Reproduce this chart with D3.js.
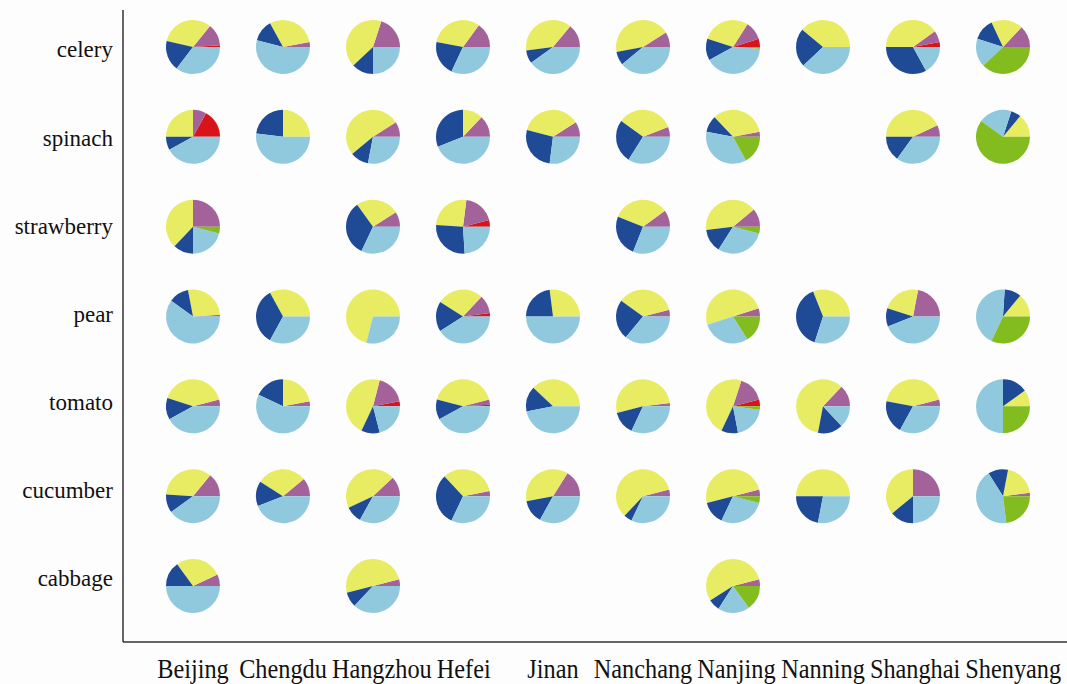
<!DOCTYPE html>
<meta charset="utf-8">
<style>
    html, body {
        margin: 0;
        padding: 0;
        background: #fdfdfd;
    }
    svg {
        display: block;
        font-family: "Liberation Serif", "Times New Roman", serif;
    }
</style>
<svg id="chart" width="1067" height="684"></svg>
<script src="https://d3js.org/d3.v7.min.js"></script>
<script>
    // rows and columns of the grid
    const crops = ["celery", "spinach", "strawberry", "pear", "tomato", "cucumber", "cabbage"];
    const cities = ["Beijing", "Chengdu", "Hangzhou", "Hefei", "Jinan", "Nanchang", "Nanjing", "Nanning", "Shanghai", "Shenyang"];

    // slice order inside each pie (counter-clockwise from 3 o'clock)
    const parts = ["red", "purple", "yellow", "darkblue", "lightblue", "green"];
    const partColors = ["#d8141a", "#a3629a", "#e8ec62", "#1f4a96", "#90c9de", "#82bc1e"];

    // shares in % per city (same order as cities), null = no pie
    const celery = [
        [1, 13, 32, 18, 35, 0], [0, 3, 30, 13, 54, 0], [0, 20, 42, 13, 25, 0], [0, 15, 32, 21, 32, 0],
        [0, 14, 38, 8, 40, 0], [0, 9, 44, 8, 39, 0], [5, 11, 29, 13, 41, 1], [0, 0, 39, 23, 38, 0],
        [3, 7, 40, 33, 17, 0], [0, 13, 19, 13, 17, 38]
    ];
    const spinach = [
        [17, 8, 25, 8, 42, 0], [0, 0, 25, 23, 52, 0], [0, 9, 52, 11, 28, 0], [0, 13, 12, 31, 44, 0],
        [0, 9, 37, 27, 27, 0], [0, 6, 34, 26, 34, 0], [0, 3, 34, 10, 36, 17], null,
        [0, 7, 43, 15, 35, 0], [0, 0, 14, 6, 20, 60]
    ];
    const strawberry = [
        [0, 25, 38, 12, 21, 4], null, [0, 9, 26, 33, 32, 0], [4, 19, 26, 27, 24, 0],
        null, [0, 10, 34, 25, 31, 0], [0, 11, 41, 14, 30, 4], null,
        null, null
    ];
    const pear = [
        [0, 1, 27, 12, 60, 0], [0, 0, 33, 34, 33, 0], [0, 0, 71, 0, 29, 0], [2, 11, 28, 18, 41, 0],
        [0, 0, 27, 23, 50, 0], [0, 4, 36, 24, 36, 0], [0, 5, 50, 0, 29, 16], [0, 0, 31, 39, 30, 0],
        [0, 22, 23, 11, 44, 0], [0, 0, 14, 10, 44, 32]
    ];
    const tomato = [
        [0, 4, 41, 13, 42, 0], [0, 3, 22, 18, 57, 0], [3, 18, 47, 11, 21, 0], [1, 3, 42, 12, 42, 0],
        [0, 0, 38, 15, 47, 0], [0, 2, 52, 14, 32, 0], [4, 16, 48, 10, 20, 2], [0, 13, 59, 15, 13, 0],
        [0, 4, 43, 20, 33, 0], [0, 0, 10, 15, 50, 25]
    ];
    const cucumber = [
        [0, 14, 35, 11, 40, 0], [0, 11, 30, 15, 44, 0], [0, 12, 45, 10, 33, 0], [0, 3, 34, 31, 32, 0],
        [0, 16, 37, 14, 33, 0], [0, 4, 59, 5, 32, 0], [0, 4, 50, 14, 28, 4], [0, 0, 50, 22, 28, 0],
        [0, 25, 36, 14, 25, 0], [0, 2, 20, 12, 43, 23]
    ];
    const cabbage = [
        [0, 7, 28, 15, 50, 0], null, [0, 4, 50, 9, 37, 0], null,
        null, null, [0, 4, 55, 7, 19, 15], null,
        null, null
    ];
    const shares = {celery, spinach, strawberry, pear, tomato, cucumber, cabbage};

    const svg = d3.select("#chart");
    const radius = 27;

    const x = d3.scalePoint().domain(cities).range([193, 1003]);
    const y = d3.scalePoint().domain(crops).range([47, 586]);
    // row labels sit on a slightly tighter spacing than the pies
    const yLabel = d3.scalePoint().domain(crops).range([50, 579]);

    const color = d3.scaleOrdinal().domain(parts).range(partColors);

    // matplotlib style: start at 3 o'clock, go counter-clockwise
    const pie = d3.pie()
        .sort(null)
        .value(d => d.value)
        .startAngle(Math.PI / 2)
        .endAngle(Math.PI / 2 - 2 * Math.PI);
    const arc = d3.arc().innerRadius(0).outerRadius(radius);

    let cells = [];
    crops.forEach(crop => {
        shares[crop].forEach((vals, i) => {
            if (vals) cells.push({crop: crop, city: cities[i], vals: vals});
        });
    });

    const g = svg.selectAll("g.cell")
        .data(cells)
        .join("g")
        .attr("class", "cell")
        .attr("transform", d => `translate(${x(d.city)},${y(d.crop)})`);

    g.selectAll("path")
        .data(d => pie(d.vals.map((v, k) => ({part: parts[k], value: v}))).filter(s => s.value > 0))
        .join("path")
        .attr("d", arc)
        .attr("fill", s => color(s.data.part));

    // axes frame
    svg.append("line")
        .attr("x1", 123).attr("x2", 123)
        .attr("y1", 10).attr("y2", 642)
        .attr("stroke", "#333").attr("stroke-width", 1.5);
    svg.append("line")
        .attr("x1", 123).attr("x2", 1067)
        .attr("y1", 642).attr("y2", 642)
        .attr("stroke", "#333").attr("stroke-width", 1.5);

    svg.selectAll("text.row")
        .data(crops)
        .join("text")
        .attr("class", "row")
        .attr("x", 113)
        .attr("y", d => yLabel(d))
        .attr("dy", "0.32em")
        .attr("text-anchor", "end")
        .attr("font-size", 23)
        .attr("fill", "#111")
        .text(d => d);

    // city names are set in a taller, slightly condensed face
    const squeeze = 0.9, gap = 5;
    const colText = svg.selectAll("text.col")
        .data(cities)
        .join("text")
        .attr("class", "col")
        .attr("text-anchor", "middle")
        .attr("font-size", 27)
        .attr("fill", "#111")
        .text(d => d);

    // push names to the right where they would run into their neighbour
    let prevRight = -Infinity;
    colText.each(function (d) {
        let w = this.getComputedTextLength() * squeeze;
        let cx = Math.max(x(d), prevRight + gap + w / 2);
        prevRight = cx + w / 2;
        d3.select(this).attr("transform", `translate(${cx},678) scale(${squeeze},1)`);
    });
</script>
